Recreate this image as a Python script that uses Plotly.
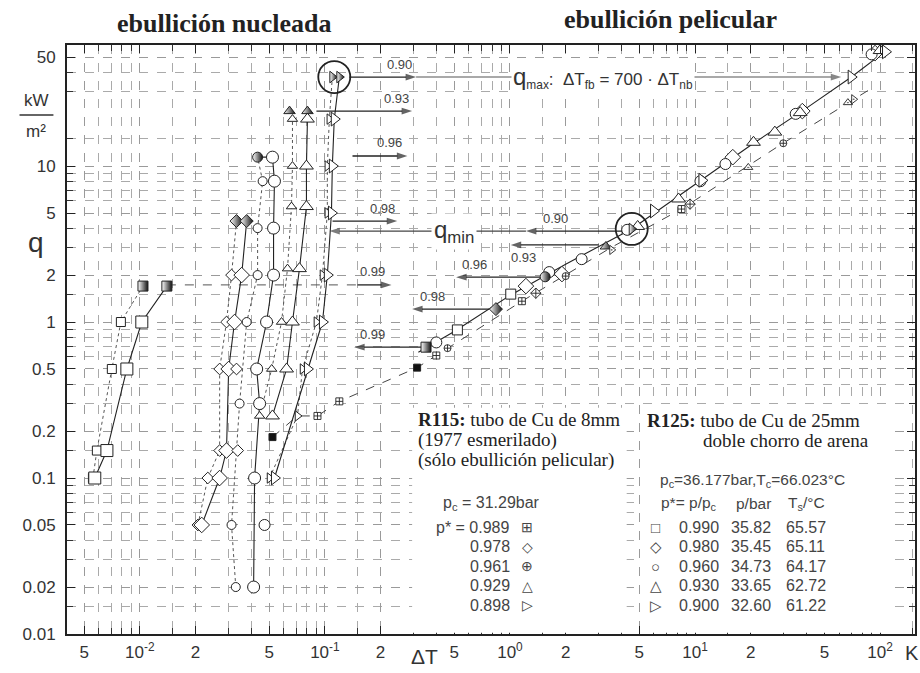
import math
import plotly.graph_objects as go

# Heat flux q (kW/m²) against wall superheat ΔT (K), R125 and R115 boiling data

# ---------------- R125 nucleate boiling, two runs per reduced pressure ----------------
sq_nb1_dT = [0.00558, 0.00586, 0.00706, 0.00790]
sq_nb1_q = [0.10, 0.15, 0.50, 1.00]
sq_nb2_dT = [0.00571, 0.00664, 0.00851, 0.01025]
sq_nb2_q = [0.10, 0.15, 0.50, 1.00]

di_nb1_dT = [0.0206, 0.0233, 0.0270, 0.0270, 0.0294, 0.0313]
di_nb1_q = [0.05, 0.10, 0.15, 0.50, 1.00, 2.00]
di_nb2_dT = [0.0216, 0.0270, 0.0294, 0.0302, 0.0325, 0.0355]
di_nb2_q = [0.05, 0.10, 0.15, 0.50, 1.00, 2.00]
di_nb_extra_dT = [0.0338, 0.0333]
di_nb_extra_q = [0.15, 0.50]

ci_nb1_dT = [0.0330, 0.0313, 0.0346, 0.0378, 0.0433, 0.0433, 0.0461]
ci_nb1_q = [0.02, 0.05, 0.30, 1.00, 2.00, 4.00, 8.00]
ci_nb2_dT = [0.0412, 0.0417, 0.0444, 0.0428, 0.0484, 0.0528, 0.0528, 0.0534, 0.0521]
ci_nb2_q = [0.02, 0.10, 0.30, 0.50, 1.00, 2.00, 4.00, 8.00, 11.4]
ci_nb_extra_dT = [0.0472]
ci_nb_extra_q = [0.05]

tr_nb1_dT = [0.0444, 0.0516, 0.0583, 0.0628, 0.0660, 0.0668, 0.0668]
tr_nb1_q = [0.25, 0.50, 1.00, 2.20, 5.50, 10.0, 20.0]
tr_nb2_dT = [0.0521, 0.0621, 0.0668, 0.0729, 0.0795, 0.0795, 0.0805]
tr_nb2_q = [0.25, 0.50, 1.00, 2.20, 5.50, 10.0, 20.0]

rt_nb1_dT = [0.0502, 0.0711, 0.0757, 0.0900, 0.0970, 0.1031, 0.1031, 0.1057]
rt_nb1_q = [0.10, 0.25, 0.50, 1.00, 2.00, 5.00, 10.0, 20.0]
rt_nb2_dT = [0.0534, 0.0805, 0.0970, 0.1031, 0.1085, 0.1097, 0.1124]
rt_nb2_q = [0.10, 0.50, 1.00, 2.00, 5.00, 10.0, 20.0]

# critical heat flux points (q_max), one per run
sq_qmax_dT = [0.0104, 0.0140]
sq_qmax_q = [1.70, 1.70]
di_qmax_dT = [0.0333, 0.0378]
di_qmax_q = [4.44, 4.44]
ci_qmax_dT = [0.0433]
ci_qmax_q = [11.4]
tr_qmax_dT = [0.0644, 0.0805]
tr_qmax_q = [22.5, 22.5]
rt_qmax_dT = [0.1097, 0.1197]
rt_qmax_q = [37.2, 37.2]

# ---------------- R125 film boiling ----------------
sq_fb_dT = [0.52, 1.01]
sq_fb_q = [0.89, 1.51]
di_fb_dT = [1.22, 1.91, 16.0, 38.0, 94.0]
di_fb_q = [1.70, 2.03, 11.4, 22.5, 53.0]
ci_fb_dT = [0.40, 1.63, 2.44, 4.3, 10.7, 14.6, 35.0, 90.0]
ci_fb_q = [0.74, 2.09, 2.53, 3.9, 8.0, 10.3, 21.6, 52.0]
tr_fb_dT = [4.9, 8.15, 20.7, 27.0, 37.0, 100.0]
tr_fb_q = [4.1, 6.15, 14.2, 16.5, 22.0, 55.0]
rt_fb_dT = [5.97, 10.9, 69.8, 107.0]
rt_fb_q = [5.15, 8.1, 37.2, 54.0]

# minimum heat flux points (q_min)
qmin_pts_dT = [0.352, 0.84, 1.55, 3.3, 4.55]
qmin_pts_q = [0.69, 1.21, 1.95, 3.05, 3.95]

film_fit_dT = [0.32, 0.5, 1.0, 2.0, 4.55, 10.0, 20.0, 40.0, 70.0, 110.0]
film_fit_q = [0.64, 0.87, 1.48, 2.35, 3.95, 7.6, 13.6, 23.5, 37.2, 56.0]

# ---------------- R115 film boiling (8 mm tube) ----------------
r115_line_dT = [0.0521, 0.0711, 0.0912, 0.1197, 0.315, 1.16, 3.55, 8.45, 28.2, 88.0]
r115_line_q = [0.183, 0.25, 0.25, 0.31, 0.51, 1.36, 3.02, 5.3, 13.4, 31.0]
r115_sq_dT = [0.0912, 0.1197, 0.40, 1.16, 8.45]
r115_sq_q = [0.25, 0.31, 0.61, 1.36, 5.3]
r115_di_dT = [1.38, 9.4]
r115_di_q = [1.53, 5.7]
r115_ci_dT = [0.46, 2.0, 30.0]
r115_ci_q = [0.68, 1.97, 14.0]
r115_tr_dT = [19.4, 67.0]
r115_tr_q = [9.8, 25.5]
r115_rt_dT = [3.55, 72.0]
r115_rt_q = [2.9, 26.8]
r115_min_dT = [0.0521, 0.315]
r115_min_q = [0.183, 0.51]

# ---------------- arrows and their labels ----------------
p_labels = ["0.90", "0.93", "0.96", "0.98", "0.99"]
qmax_arrow_q = [37.2, 22.5, 11.6, 4.44, 1.73]
qmax_arrow_from = [0.1355, 0.090, 0.141, 0.110, 0.150]
qmax_arrow_to = [0.311, 0.296, 0.279, 0.246, 0.229]
qmax_label_dT = [0.252, 0.243, 0.223, 0.204, 0.180]
qmax_099_dashed_dT = [0.0140, 0.150]
qmax_link_dT = [0.311, 61.7]

qmin_arrow_q = [3.83, 3.12, 1.94, 1.21, 0.69]
qmin_arrow_from = [4.39, 3.02, 1.49, 0.771, 0.336]
qmin_arrow_to = [1.22, 1.01, 0.512, 0.296, 0.144]
qmin_label_dT = [1.77, 1.19, 0.64, 0.38, 0.18]
qmin_label_side = [1, -1, 1, 1, 1]
qmin_link_dT = [1.22, 0.1057]

ring_dT = [0.1124, 4.55]
ring_q = [37.2, 3.95]

# axis ticks
x_major = [0.005, 0.01, 0.02, 0.05, 0.1, 0.2, 0.5, 1, 2, 5, 10, 20, 50, 100]
x_text = ["5", "10<sup>-2</sup>", "2", "5", "10<sup>-1</sup>", "2", "5", "10<sup>0</sup>",
          "2", "5", "10<sup>1</sup>", "2", "5", "10<sup>2</sup>"]
y_major = [0.01, 0.02, 0.05, 0.1, 0.2, 0.5, 1, 2, 5, 10, 50]
y_text = ["0.01", "0.02", "0.05", "0.1", "0.2", "0.5", "1", "2", "5", "10", "50"]
minor_digits = [1.5, 3, 4, 6, 7, 8, 9]

# legend tables
r115_pstar = ["p* = 0.989", "0.978", "0.961", "0.929", "0.898"]
r115_sym = ["⊞", "◇", "⊕", "△", "▷"]
r125_sym = ["□", "◇", "○", "△", "▷"]
r125_pstar = ["0.990", "0.980", "0.960", "0.930", "0.900"]
r125_pbar = ["35.82", "35.45", "34.73", "33.65", "32.60"]
r125_Ts = ["65.57", "65.11", "64.17", "62.72", "61.22"]

INK = "#222222"
fig = go.Figure()


def line(x, y, dash="solid", color=INK, width=1.1):
    fig.add_trace(go.Scatter(x=x, y=y, mode="lines", hoverinfo="skip",
                             line=dict(color=color, width=width, dash=dash)))


def pts(x, y, symbol, size, half=False, fill="white", lw=1.0):
    marker = dict(symbol=symbol, size=size, color=fill, line=dict(color=INK, width=lw))
    if half:
        marker["gradient"] = dict(type="horizontal", color="#111111")
    fig.add_trace(go.Scatter(x=x, y=y, mode="markers", marker=marker))


def harrow(x_from, x_to, q, color=INK, width=1.3, head=11):
    fig.add_trace(go.Scatter(x=[x_from, x_to], y=[q, q], mode="lines+markers",
                             hoverinfo="skip", line=dict(color=color, width=width),
                             marker=dict(symbol="arrow", size=[0, head], angleref="previous",
                                         color=color, line=dict(width=0))))


# film-boiling correlation lines
line(film_fit_dT, film_fit_q, "solid", INK, 1.1)
line(r115_line_dT, r115_line_q, "dash", "#444444", 1.0)

# dashed lead-in to the 0.99 q_max arrow
line(qmax_099_dashed_dT, [qmax_arrow_q[4]] * 2, "dash", "#555555", 1.0)

# nucleate boiling curves: first run thin dotted, second run solid
series = [
    ("square", sq_nb1_dT, sq_nb1_q, sq_nb2_dT, sq_nb2_q, sq_qmax_dT, sq_qmax_q),
    ("diamond", di_nb1_dT, di_nb1_q, di_nb2_dT, di_nb2_q, di_qmax_dT, di_qmax_q),
    ("circle", ci_nb1_dT, ci_nb1_q, ci_nb2_dT, ci_nb2_q, ci_qmax_dT, ci_qmax_q),
    ("triangle-up", tr_nb1_dT, tr_nb1_q, tr_nb2_dT, tr_nb2_q, tr_qmax_dT, tr_qmax_q),
    ("triangle-right", rt_nb1_dT, rt_nb1_q, rt_nb2_dT, rt_nb2_q, rt_qmax_dT, rt_qmax_q),
]
for sym, x1, y1, x2, y2, xm, ym in series:
    line(x1 + [xm[0]], y1 + [ym[0]], "dot", "#555555", 1.0)
    line(x2 + [xm[-1]], y2 + [ym[-1]], "solid", INK, 1.1)

# arrows: q_max (to the right) and q_min (to the left)
for q, a, b in zip(qmax_arrow_q, qmax_arrow_from, qmax_arrow_to):
    harrow(a, b, q)
harrow(qmax_link_dT[0], qmax_link_dT[1], qmax_arrow_q[0], "#555555", 1.1)
harrow(qmin_link_dT[0], qmin_link_dT[1], qmin_arrow_q[0], "#444444", 1.2)
for q, a, b in zip(qmin_arrow_q, qmin_arrow_from, qmin_arrow_to):
    harrow(a, b, q)

for sym, x1, y1, x2, y2, xm, ym in series:
    pts(x1, y1, sym, 9)
    pts(x2, y2, sym, 12)
    pts(xm, ym, sym, 10, half=True)
pts(di_nb_extra_dT, di_nb_extra_q, "diamond", 9)
pts(ci_nb_extra_dT, ci_nb_extra_q, "circle", 11)

# film boiling markers
pts(sq_fb_dT, sq_fb_q, "square", 10)
pts(di_fb_dT, di_fb_q, "diamond", 12)
pts(ci_fb_dT, ci_fb_q, "circle", 11)
pts(tr_fb_dT, tr_fb_q, "triangle-up", 12)
pts(rt_fb_dT, rt_fb_q, "triangle-right", 12)
for sym, xv, yv in zip(["square", "diamond", "circle", "triangle-up", "triangle-right"],
                       qmin_pts_dT, qmin_pts_q):
    pts([xv], [yv], sym, 10, half=True)

# R115 markers
pts(r115_sq_dT, r115_sq_q, "square-cross", 7, lw=0.9)
pts(r115_di_dT, r115_di_q, "diamond-cross", 8, lw=0.9)
pts(r115_ci_dT, r115_ci_q, "circle-cross", 7, lw=0.9)
pts(r115_tr_dT, r115_tr_q, "triangle-up-dot", 8, lw=0.9)
pts(r115_rt_dT, r115_rt_q, "triangle-right-dot", 8, lw=0.9)
pts(r115_min_dT, r115_min_q, "square", 7, fill="#111111")

# rings around the highlighted q_max / q_min points
fig.add_trace(go.Scatter(x=ring_dT, y=ring_q, mode="markers",
                         marker=dict(symbol="circle-open", size=32, color=INK,
                                     line=dict(width=1.8, color=INK))))

L = math.log10


def label(xv, q, text, shift, size=13):
    fig.add_annotation(x=L(xv), y=L(q), xref="x", yref="y", text=text, showarrow=False,
                       yshift=shift, font=dict(size=size, color="#444444"))


for p, q, lx in zip(p_labels, qmax_arrow_q, qmax_label_dT):
    label(lx, q, p, 13)
for p, q, lx, s in zip(p_labels, qmin_arrow_q, qmin_label_dT, qmin_label_side):
    label(lx, q, p, 13 * s)

fig.add_annotation(x=L(3.2), y=L(qmax_arrow_q[0]), xref="x", yref="y", showarrow=False,
                   text="<span style='font-size:24px'>q</span><sub>max</sub>:  "
                        "ΔT<sub>fb</sub> = 700 · ΔT<sub>nb</sub>",
                   bgcolor="white", borderpad=1, font=dict(size=17, color="#333333"))
fig.add_annotation(x=L(0.50), y=L(qmin_arrow_q[0]), xref="x", yref="y", showarrow=False,
                   text="q<sub>min</sub>", bgcolor="white", borderpad=2,
                   font=dict(size=24, color="#333333"))

# white panels holding the two data tables
fig.add_shape(type="rect", xref="paper", yref="paper", x0=0.407, x1=0.660, y0=0.002, y1=0.384,
              fillcolor="white", line=dict(width=0), layer="above")
fig.add_shape(type="rect", xref="paper", yref="paper", x0=0.678, x1=0.966, y0=0.002, y1=0.389,
              fillcolor="white", line=dict(width=0), layer="above")

SERIF = "Liberation Serif, DejaVu Serif, serif"
SANS = "Liberation Sans, Arial, sans-serif"


def ptext(x, y, text, size=13, anchor="left", family=SANS, color="#444444"):
    fig.add_annotation(x=x, y=y, xref="paper", yref="paper", text=text, showarrow=False,
                       xanchor=anchor, yanchor="middle",
                       font=dict(size=size, family=family, color=color))


ptext(0.411, 0.365, "<b>R115:</b> tubo de Cu de 8mm", 19, family=SERIF, color="#222222")
ptext(0.411, 0.329, "(1977 esmerilado)", 19, family=SERIF, color="#222222")
ptext(0.411, 0.295, "(sólo ebullición pelicular)", 19, family=SERIF, color="#222222")
ptext(0.441, 0.221, "p<sub>c</sub> = 31.29bar", 16)
rows_y = [0.181, 0.148, 0.115, 0.082, 0.049]
for t, s, yy in zip(r115_pstar, r115_sym, rows_y):
    ptext(0.525, yy, t, 16, anchor="right")
    ptext(0.543, yy, s, 14, anchor="center")

ptext(0.682, 0.363, "<b>R125:</b> tubo de Cu de 25mm", 19, family=SERIF, color="#222222")
ptext(0.748, 0.328, "doble chorro de arena", 19, family=SERIF, color="#222222")
ptext(0.697, 0.261, "p<sub>c</sub>=36.177bar,T<sub>c</sub>=66.023°C", 15.5)
ptext(0.733, 0.222, "p*= p/p<sub>c</sub>", 15.5, anchor="center")
ptext(0.809, 0.222, "p/bar", 15.5, anchor="center")
ptext(0.872, 0.222, "T<sub>s</sub>/°C", 15.5, anchor="center")
for s, a, b, c, yy in zip(r125_sym, r125_pstar, r125_pbar, r125_Ts, rows_y):
    ptext(0.694, yy, s, 15, anchor="center")
    ptext(0.745, yy, a, 16, anchor="center")
    ptext(0.807, yy, b, 16, anchor="center")
    ptext(0.871, yy, c, 16, anchor="center")

# titles and axis labels
ptext(0.186, 1.036, "<b>ebullición nucleada</b>", 26, anchor="center", family=SERIF, color="#222222")
ptext(0.712, 1.044, "<b>ebullición pelicular</b>", 26, anchor="center", family=SERIF, color="#222222")
ptext(-0.036, 0.664, "q", 28, anchor="center", color="#333333")
ptext(-0.036, 0.905, "kW", 17, anchor="center", color="#333333")
ptext(-0.036, 0.853, "m²", 17, anchor="center", color="#333333")
fig.add_shape(type="line", xref="paper", yref="paper", x0=-0.056, x1=-0.016, y0=0.881, y1=0.881,
              line=dict(color="#333333", width=1.5))
ptext(0.421, -0.039, "ΔT", 21, anchor="center", color="#333333")
ptext(0.996, -0.033, "K", 20, anchor="center", color="#333333")

decades = [1e-3, 1e-2, 1e-1, 1, 10, 100]
x_minor = [d * m for d in decades for m in minor_digits]
y_minor = [d * m for d in decades for m in minor_digits]

axis_common = dict(type="log", showline=True, linewidth=2, linecolor=INK, mirror="allticks",
                   ticks="inside", ticklen=8, tickwidth=1.4, tickcolor=INK,
                   showgrid=True, gridcolor="#9a9a9a", griddash="dash", gridwidth=1,
                   zeroline=False, tickfont=dict(size=17, family=SANS, color="#333333"))

fig.update_xaxes(range=[-2.3935, 2.1887], tickmode="array", tickvals=x_major, ticktext=x_text,
                 minor=dict(tickmode="array", tickvals=x_minor, ticks="inside", ticklen=6,
                            tickcolor="#333333", showgrid=True, gridcolor="#aaaaaa",
                            griddash="dash", gridwidth=0.8),
                 ticklabelstandoff=2, **axis_common)
fig.update_yaxes(range=[-2.0, 1.776], tickmode="array", tickvals=y_major, ticktext=y_text,
                 minor=dict(tickmode="array", tickvals=y_minor, ticks="inside", ticklen=6,
                            tickcolor="#333333", showgrid=True, gridcolor="#aaaaaa",
                            griddash="dash", gridwidth=0.8),
                 ticklabelstandoff=6, **axis_common)

fig.update_layout(width=920, height=673, margin=dict(l=67, r=3, t=45, b=39),
                  plot_bgcolor="white", paper_bgcolor="white", showlegend=False,
                  font=dict(family=SANS, color="#333333"))

fig.write_html("out.html")
